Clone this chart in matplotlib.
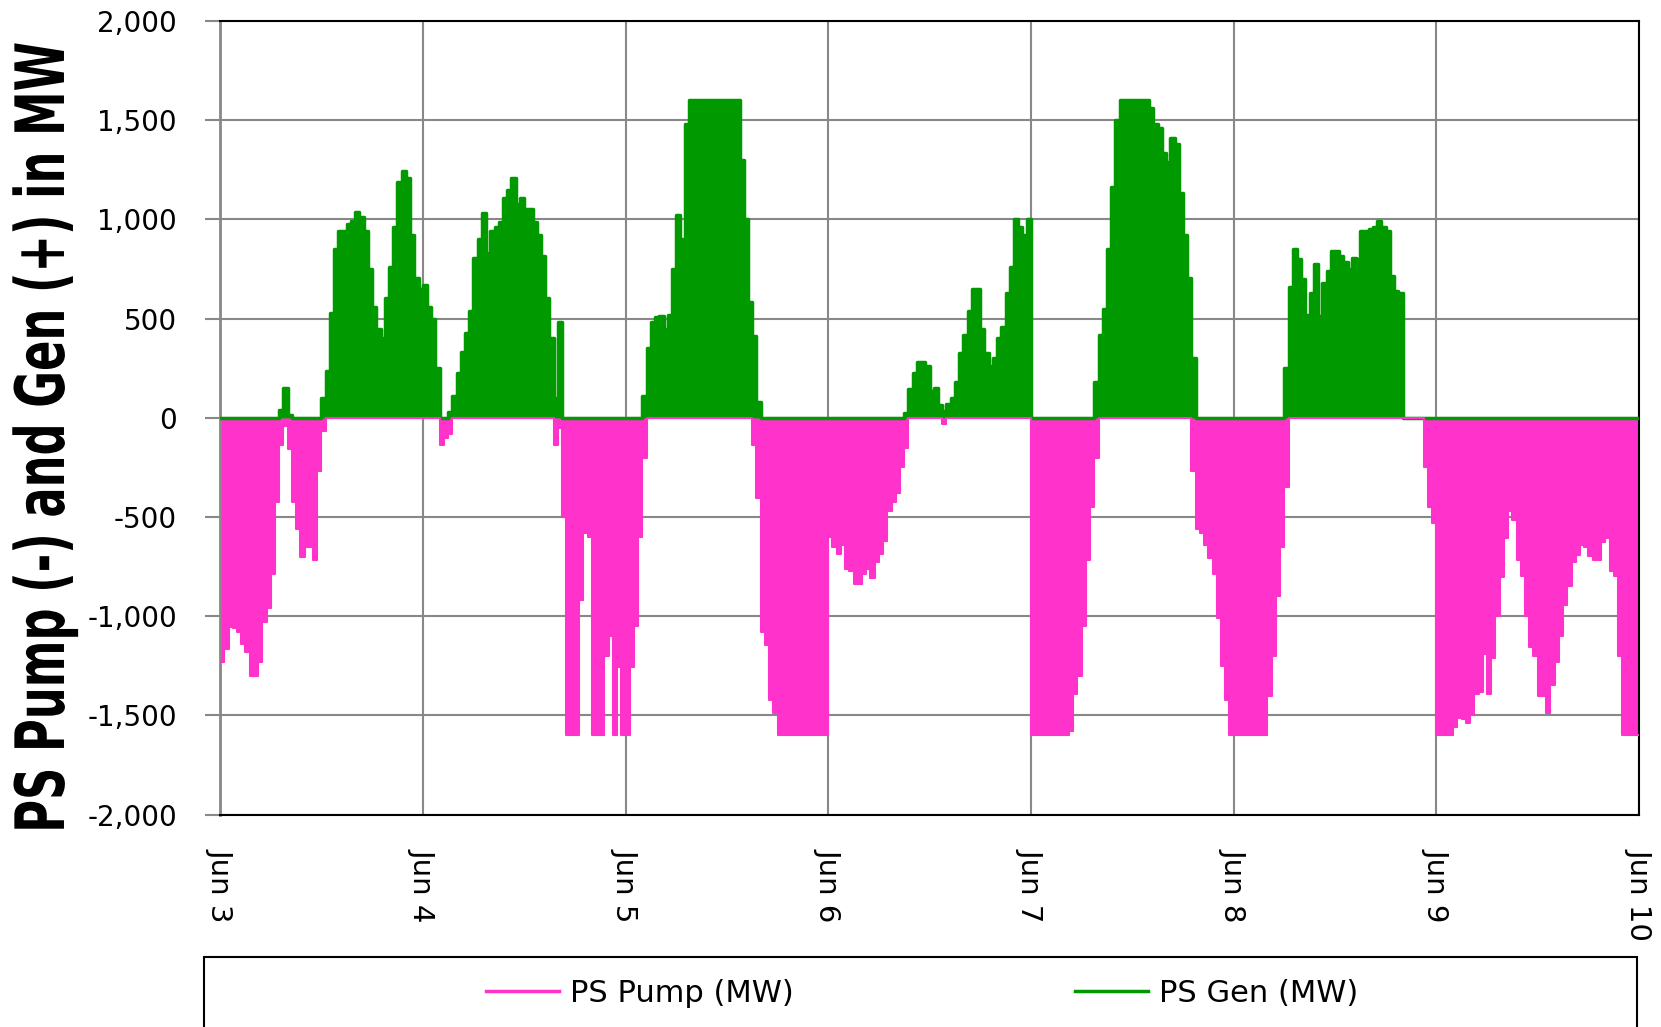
import numpy as np
import matplotlib
matplotlib.use("Agg")
import matplotlib.pyplot as plt
from matplotlib.patches import Rectangle
from matplotlib.patheffects import AbstractPathEffect
from matplotlib.transforms import Affine2D

# ---- data: half-hourly values (MW), one list per day ----
pump_jun3 = [-1233, -1166, -1054, -1060, -1080, -1140, -1180, -1300, -1300, -1233, -1030, -960,
             -785, -425, -135, -40, -157, -425, -560, -700, -650, -650, -717, -270, -67] + [0] * 23
gen_jun3 = [0] * 14 + [40, 150, 15] + [0] * 7 + [100, 235, 530, 852, 940, 940, 975, 990, 1040, 1010,
            940, 750, 560, 448, 400, 605, 762, 964, 1188, 1244, 1210, 920, 706, 650]

gen_jun4 = [672, 560, 500, 250, 0, 0, 30, 112, 224, 330, 426, 538, 807, 900, 1031, 830, 942, 960, 986,
            1110, 1150, 1210, 1076, 1110, 1054, 1054, 986, 920, 818, 605, 400, 100, 482] + [0] * 15
pump_jun4 = [0] * 4 + [-135, -100, -80] + [0] * 24 + [-135, -50, -500, -1600, -1600, -1600, -920, -583,
             -600, -1600, -1600, -1600, -1200, -1100, -1600, -1255, -1600]

pump_jun5 = [-1600, -1255, -1050, -600, -200] + [0] * 25 + [-135, -404, -1080, -1143, -1424, -1490] + [-1600] * 12
gen_jun5 = [0] * 4 + [110, 350, 482, 510, 515, 448, 520, 750, 1020, 900, 1480] + [1600] * 12 + \
           [1300, 1000, 583, 415, 80] + [0] * 16

pump_jun6 = [-600, -650, -684, -640, -762, -773, -840, -840, -785, -760, -807, -728, -684, -620, -470,
             -426, -381, -247, -150] + [0] * 8 + [-30] + [0] * 20
gen_jun6 = [0] * 18 + [22, 145, 224, 280, 280, 260, 135, 150, 67, 34, 70, 100, 180, 325, 420, 540, 650,
            650, 448, 325, 260, 300, 404, 460, 628, 762, 1000, 960, 920, 1000]

pump_jun7 = [-1600] * 9 + [-1580, -1390, -1300, -1050, -717, -448, -200] + [0] * 22 + \
            [-270, -560, -583, -640, -706, -785, -1009, -1250, -1424, -1600]
gen_jun7 = [0] * 15 + [180, 420, 550, 852, 1166, 1502] + [1600] * 7 + \
           [1560, 1480, 1460, 1334, 1289, 1412, 1380, 1132, 920, 706, 300] + [0] * 9

pump_jun8 = [-1600] * 8 + [-1400, -1200, -900, -650, -348] + [0] * 32 + [-250, -450, -530]
gen_jun8 = [0] * 12 + [250, 660, 852, 800, 700, 520, 628, 773, 515, 680, 740, 840, 840, 818, 785, 751,
            807, 800, 942, 942, 953, 964, 990, 964, 942, 717, 640, 628] + [0] * 8

pump_jun9 = [-1600] * 4 + [-1560, -1513, -1520, -1536, -1500, -1390, -1380, -1188, -1390, -1210, -997,
             -800, -605, -470, -515, -717, -796, -1000, -1155, -1200, -1400, -1400, -1490, -1345,
             -1230, -1100, -942, -850, -728, -690, -640, -650, -695, -717, -717, -628, -605, -773,
             -796, -1200] + [-1600] * 4
gen_jun9 = [0] * 48

pump_end = [-1600]
gen_end = [0]

day_labels = ["Jun 3", "Jun 4", "Jun 5", "Jun 6", "Jun 7", "Jun 8", "Jun 9", "Jun 10"]
y_ticks = [-2000, -1500, -1000, -500, 0, 500, 1000, 1500, 2000]

pump = np.array(pump_jun3 + pump_jun4 + pump_jun5 + pump_jun6 + pump_jun7 + pump_jun8 + pump_jun9 + pump_end, float)
gen = np.array(gen_jun3 + gen_jun4 + gen_jun5 + gen_jun6 + gen_jun7 + gen_jun8 + gen_jun9 + gen_end, float)
t = np.arange(len(pump)) / 48.0  # days since Jun 3

PINK = "#FF33CC"
GREEN = "#009900"


class Stretch(AbstractPathEffect):
    """Scale glyph outlines about the text's anchor point (keeps the text a real Text)."""
    def __init__(self, text, sx=1.0, sy=1.0):
        super().__init__()
        self.text, self.sx, self.sy = text, sx, sy

    def draw_path(self, renderer, gc, tpath, affine, rgbFace=None):
        x, y = self.text.get_transform().transform(self.text.get_unitless_position())
        tr = affine + Affine2D().translate(-x, -y).scale(self.sx, self.sy).translate(x, y)
        renderer.draw_path(gc, tpath, tr, rgbFace)


fig = plt.figure(figsize=(16.61, 10.27), dpi=100)
ax = fig.add_axes([0.1325, 0.2068, 0.8543, 0.7727])

ax.fill_between(t, pump, 0, step="post", color=PINK, linewidth=0, zorder=2)
ax.fill_between(t, gen, 0, step="post", color=GREEN, linewidth=0, zorder=3)
l_gen, = ax.plot(t, gen, drawstyle="steps-post", color=GREEN, lw=2.5, zorder=4, label="PS Gen (MW)")
l_pump, = ax.plot(t, pump, drawstyle="steps-post", color=PINK, lw=1.5, zorder=5, label="PS Pump (MW)")

ax.set_xlim(0, 7)
ax.set_ylim(-2000, 2000)
ax.set_yticks(y_ticks)
ax.set_yticklabels([f"{v:,}" for v in y_ticks], fontsize=20)
ax.set_xticks(np.arange(len(day_labels)))
ax.set_xticklabels(day_labels, rotation=-90, fontsize=21, va="top", ha="center")
ax.tick_params(axis="y", length=11, width=1.5, color="#888888", pad=20)
ax.tick_params(axis="x", length=0, pad=24)
ax.grid(True, color="#888888", lw=1.5, zorder=1)
ax.set_axisbelow(True)
for s in ["top", "right", "bottom"]:
    ax.spines[s].set_color("black")
    ax.spines[s].set_linewidth(1.5)
ax.spines["left"].set_color("#888888")
ax.spines["left"].set_linewidth(2)

# y-axis title: size chosen so its length matches, glyphs widened across the text direction
ylab = fig.text(45 / 1661, 1 - 437 / 1027, "PS Pump (-) and Gen (+) in MW", rotation=90,
                ha="center", va="center", fontsize=49, fontweight="bold")
renderer = fig.canvas.get_renderer()
h = ylab.get_window_extent(renderer).height
new_size = 49 * 790 / h
ylab.set_fontsize(new_size)
ylab.set_path_effects([Stretch(ylab, sx=49 / new_size, sy=1.0)])

# legend box (extends past the bottom edge)
fig.patches.append(Rectangle((204 / 1661, -0.1), 1433 / 1661, 0.1 + 1 - 957 / 1027,
                             transform=fig.transFigure, facecolor="white",
                             edgecolor="black", lw=1.5))
leg = fig.legend(handles=[l_pump, l_gen], loc="center", bbox_to_anchor=(0.555, 1 - 993 / 1027),
                 ncol=2, frameon=False, prop={"size": 22},
                 handlelength=2.4, handletextpad=0.35, columnspacing=9.2)
for hd in leg.legend_handles:
    hd.set_linewidth(2.5)

fig.savefig("out.png", dpi=100)
